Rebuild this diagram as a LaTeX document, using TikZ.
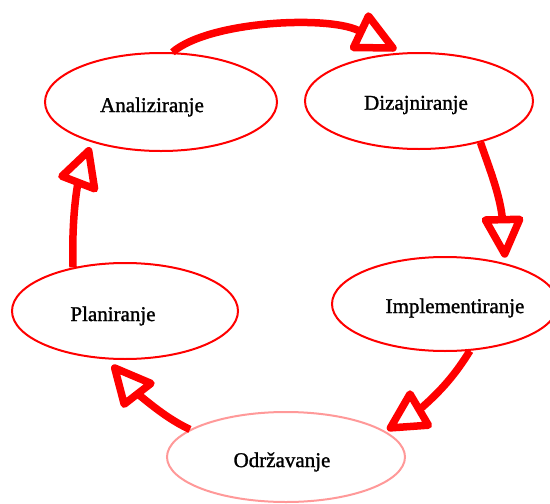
\documentclass[tikz,border=0pt]{standalone}
\usepackage{fontspec}
\setmainfont{Liberation Serif}
\newfontfamily\lblfont{Liberation Serif}[FakeBold=1.3]
\usetikzlibrary{shapes.geometric}
\begin{document}
\begin{tikzpicture}[x=1pt,y=-1pt,
  phase/.style={ellipse, draw=red, line width=2pt, fill=white, inner sep=0pt},
  faded/.style={ellipse, draw=red!40, line width=2pt, fill=white, inner sep=0pt},
  lbl/.style={inner sep=0pt, font=\lblfont\fontsize{21}{24}\selectfont},
  shaft/.style={draw=red, line width=7.5pt},
  head/.style={draw=red, line width=7.5pt, line join=round, fill=white}
]
\useasboundingbox (0,0) rectangle (550,504);
\node[phase, minimum width=232pt, minimum height=98pt] (an) at (161,102) {};
\node[phase, minimum width=228pt, minimum height=96pt] (di) at (419,101) {};
\node[phase, minimum width=226pt, minimum height=94pt] (im) at (445,304) {};
\node[phase, minimum width=226pt, minimum height=96pt] (pl) at (125,311) {};
\node[faded, minimum width=238pt, minimum height=90pt] (od) at (286,457) {};
\node[lbl] (anT) at (152,107) {Analiziranje};
\node[lbl] (diT) at (416,105) {Dizajniranje};
\node[lbl] (imT) at (455,308) {Implementiranje};
\node[lbl] (plT) at (113,316) {Planiranje};
\node[lbl] (odT) at (282,462) {Održavanje};
% arrow ends (base of each head)
\coordinate (e1) at (361,32);
\coordinate (e2) at (502.5,219.6);
\coordinate (e3) at (419,410);
\coordinate (e4) at (137.6,393.8);
\coordinate (e5) at (78,182.5);
\draw[shaft] (an.77) .. controls (210,20) and (335,15) .. (e1);
\draw[shaft] (di.-34) .. controls (490,170) and (500,195) .. (e2);
\draw[shaft] (im.-62) .. controls (455,375) and (440,392) .. (e3);
\draw[shaft] (od.164) .. controls (170,420) and (155,408) .. (e4);
\draw[shaft] (pl.140) .. controls (72,235) and (74,205) .. (e5);
% heads
\draw[head] (368.5,16) -- (393,48) -- (353.5,47.5) -- cycle;
\draw[head] (485.4,220) -- (504.7,254) -- (519.7,219.3) -- cycle;
\draw[head] (410,394) -- (390.4,427.9) -- (428.4,425.2) -- cycle;
\draw[head] (151,383.4) -- (114.7,368) -- (124.2,404.2) -- cycle;
\draw[head] (61.9,176.2) -- (88.7,150.8) -- (94.6,188.8) -- cycle;
\end{tikzpicture}
\end{document}
